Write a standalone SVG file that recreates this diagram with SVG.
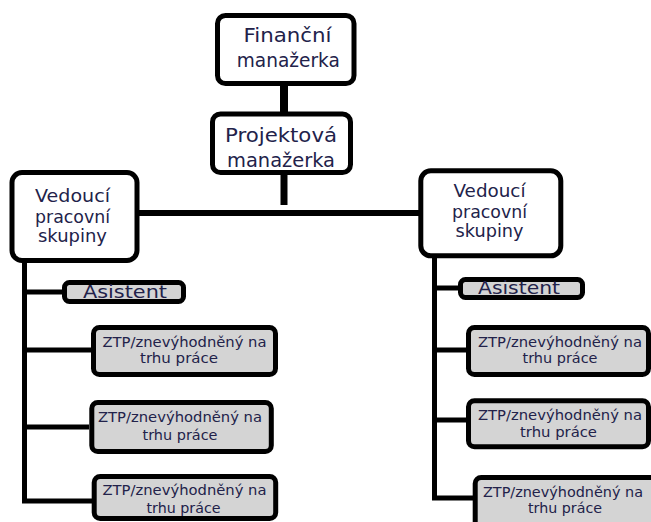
<svg xmlns="http://www.w3.org/2000/svg" width="651" height="522" viewBox="0 0 651 522">
<style>
.box{fill:#ffffff;stroke:#000;stroke-width:5}
.gbox{fill:#d4d4d4;stroke:#000;stroke-width:5}
.conn{stroke:#000;fill:none}
text{font-family:"DejaVu Sans","Liberation Sans",sans-serif;fill:#22224a;text-anchor:middle}
.big{font-size:20px}
.mid{font-size:17px}
.as{font-size:18px}
.sm{font-size:13.5px}
</style>
<rect width="651" height="522" fill="#ffffff"/>
<g id="connectors">
<line class="conn" x1="284" y1="84" x2="284" y2="114" stroke-width="8"/>
<line class="conn" x1="284" y1="172" x2="284" y2="205" stroke-width="7"/>
<line class="conn" x1="137" y1="213" x2="420" y2="213" stroke-width="6"/>
<polyline class="conn" points="24.5,262 24.5,501 92,501" stroke-width="5"/>
<line class="conn" x1="24.5" y1="292" x2="63" y2="292" stroke-width="5"/>
<line class="conn" x1="24.5" y1="350" x2="91" y2="350" stroke-width="5"/>
<line class="conn" x1="24.5" y1="427" x2="89" y2="427" stroke-width="5"/>
<polyline class="conn" points="434.5,258 434.5,498 473,498" stroke-width="5"/>
<line class="conn" x1="434.5" y1="288" x2="459" y2="288" stroke-width="5"/>
<line class="conn" x1="434.5" y1="350" x2="467" y2="350" stroke-width="5"/>
<line class="conn" x1="434.5" y1="420" x2="467" y2="420" stroke-width="5"/>
</g>
<g id="financni">
<rect class="box" x="217.5" y="15.5" width="136.5" height="68" rx="8"/>
<text class="big" x="287.5" y="42" textLength="88" lengthAdjust="spacingAndGlyphs">Finanční</text>
<text class="big" x="288.3" y="67" textLength="103" lengthAdjust="spacingAndGlyphs">manažerka</text>
</g>
<g id="projektova">
<rect class="box" x="212.5" y="114" width="138" height="58.5" rx="8"/>
<text class="big" x="281" y="142" textLength="112" lengthAdjust="spacingAndGlyphs">Projektová</text>
<text class="big" x="281" y="167" textLength="108" lengthAdjust="spacingAndGlyphs">manažerka</text>
</g>
<g id="vedouci-left">
<rect class="box" x="12" y="172.5" width="125" height="88" rx="10"/>
<text class="mid" x="72.5" y="202" textLength="75" lengthAdjust="spacingAndGlyphs">Vedoucí</text>
<text class="mid" x="72.5" y="223" textLength="75" lengthAdjust="spacingAndGlyphs">pracovní</text>
<text class="mid" x="72.5" y="242" textLength="69" lengthAdjust="spacingAndGlyphs">skupiny</text>
</g>
<g id="vedouci-right">
<rect class="box" x="420.8" y="170.8" width="140" height="85" rx="10"/>
<text class="mid" x="489.5" y="197" textLength="72" lengthAdjust="spacingAndGlyphs">Vedoucí</text>
<text class="mid" x="489.5" y="218" textLength="75" lengthAdjust="spacingAndGlyphs">pracovní</text>
<text class="mid" x="489.5" y="237" textLength="68" lengthAdjust="spacingAndGlyphs">skupiny</text>
</g>
<g id="asistent-left">
<rect class="gbox" x="64.5" y="282.5" width="119" height="19" rx="5"/>
<text class="as" x="125" y="298" textLength="84" lengthAdjust="spacingAndGlyphs">Asistent</text>
</g>
<g id="asistent-right">
<rect class="gbox" x="460.5" y="279.5" width="122" height="18" rx="5"/>
<text class="as" x="519" y="294" textLength="82" lengthAdjust="spacingAndGlyphs">Asistent</text>
</g>
<g id="ztp-left-1">
<rect class="gbox" x="93.5" y="327.5" width="182" height="47" rx="6"/>
<text class="sm" x="184.5" y="347" textLength="164" lengthAdjust="spacingAndGlyphs">ZTP/znevýhodněný na</text>
<text class="sm" x="179" y="363" textLength="78" lengthAdjust="spacingAndGlyphs">trhu práce</text>
</g>
<g id="ztp-left-2">
<rect class="gbox" x="91.8" y="402.5" width="179.5" height="49" rx="6"/>
<text class="sm" x="180" y="422" textLength="164" lengthAdjust="spacingAndGlyphs">ZTP/znevýhodněný na</text>
<text class="sm" x="180" y="440" textLength="75" lengthAdjust="spacingAndGlyphs">trhu práce</text>
</g>
<g id="ztp-left-3">
<rect class="gbox" x="94.2" y="476.5" width="181.5" height="42" rx="6"/>
<text class="sm" x="184.5" y="495" textLength="164" lengthAdjust="spacingAndGlyphs">ZTP/znevýhodněný na</text>
<text class="sm" x="183.5" y="513" textLength="74" lengthAdjust="spacingAndGlyphs">trhu práce</text>
</g>
<g id="ztp-right-1">
<rect class="gbox" x="468.5" y="327.5" width="180" height="47" rx="6"/>
<text class="sm" x="560" y="347" textLength="164" lengthAdjust="spacingAndGlyphs">ZTP/znevýhodněný na</text>
<text class="sm" x="560" y="363" textLength="75" lengthAdjust="spacingAndGlyphs">trhu práce</text>
</g>
<g id="ztp-right-2">
<rect class="gbox" x="468.5" y="400.8" width="180" height="46" rx="6"/>
<text class="sm" x="560" y="420" textLength="164" lengthAdjust="spacingAndGlyphs">ZTP/znevýhodněný na</text>
<text class="sm" x="558.5" y="437" textLength="77" lengthAdjust="spacingAndGlyphs">trhu práce</text>
</g>
<g id="ztp-right-3">
<rect class="gbox" x="475.2" y="477.5" width="185" height="50" rx="6"/>
<text class="sm" x="563" y="497" textLength="160" lengthAdjust="spacingAndGlyphs">ZTP/znevýhodněný na</text>
<text class="sm" x="565" y="513" textLength="74" lengthAdjust="spacingAndGlyphs">trhu práce</text>
</g>
</svg>
